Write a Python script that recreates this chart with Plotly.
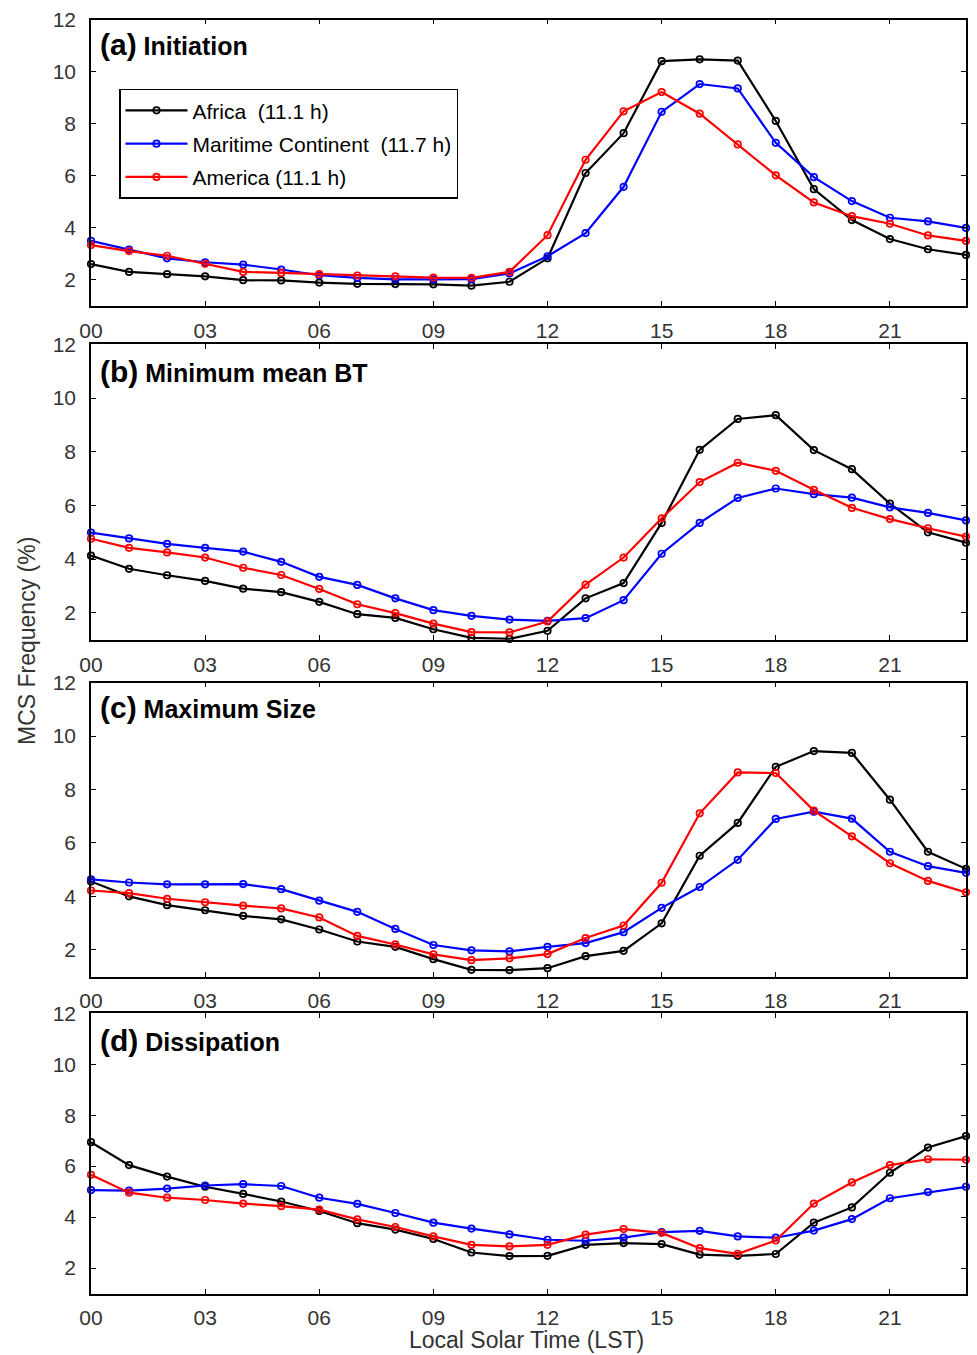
import plotly.graph_objects as go

W, H = 977, 1355

hours = list(range(24))
hour_ticks = [0, 3, 6, 9, 12, 15, 18, 21]
hour_labels = ["00", "03", "06", "09", "12", "15", "18", "21"]
freq_ticks = [2, 4, 6, 8, 10, 12]

regions = ["Africa", "Maritime Continent", "America"]
region_labels = ["Africa\u00a0\u00a0(11.1 h)", "Maritime Continent\u00a0\u00a0(11.7 h)", "America (11.1 h)\u00a0"]
region_colors = ["#000000", "#0000ff", "#ff0000"]

panel_titles = ["(a)", "(b)", "(c)", "(d)"]
panel_names = ["Initiation", "Minimum mean BT", "Maximum Size", "Dissipation"]

# MCS frequency (%) per local solar hour
init_africa = [2.60, 2.30, 2.21, 2.13, 1.98, 1.97, 1.89, 1.84, 1.83, 1.82, 1.77, 1.92,
               2.82, 6.10, 7.63, 10.40, 10.47, 10.42, 8.10, 5.48, 4.29, 3.56, 3.17, 2.95]
init_maritime = [3.49, 3.16, 2.82, 2.67, 2.58, 2.39, 2.17, 2.07, 2.01, 2.01, 2.02, 2.24,
                 2.90, 3.79, 5.57, 8.45, 9.52, 9.35, 7.26, 5.94, 5.02, 4.38, 4.24, 3.99]
init_america = [3.33, 3.10, 2.92, 2.61, 2.30, 2.26, 2.21, 2.16, 2.13, 2.08, 2.07, 2.30,
                3.71, 6.61, 8.47, 9.21, 8.38, 7.20, 6.01, 4.97, 4.44, 4.15, 3.70, 3.49]

minbt_africa = [4.13, 3.64, 3.40, 3.19, 2.90, 2.77, 2.41, 1.95, 1.81, 1.39, 1.07, 1.03,
                1.33, 2.54, 3.11, 5.35, 8.07, 9.22, 9.36, 8.06, 7.35, 6.07, 5.00, 4.61]
minbt_maritime = [4.99, 4.77, 4.57, 4.42, 4.28, 3.90, 3.34, 3.04, 2.54, 2.10, 1.89, 1.75,
                  1.70, 1.80, 2.47, 4.20, 5.35, 6.28, 6.63, 6.42, 6.29, 5.93, 5.72, 5.44]
minbt_america = [4.76, 4.42, 4.25, 4.06, 3.68, 3.41, 2.89, 2.32, 1.99, 1.60, 1.28, 1.27,
                 1.68, 3.05, 4.06, 5.52, 6.87, 7.59, 7.29, 6.58, 5.91, 5.49, 5.15, 4.84]

maxsize_africa = [4.56, 4.00, 3.67, 3.48, 3.27, 3.14, 2.76, 2.31, 2.11, 1.65, 1.25, 1.24,
                  1.31, 1.76, 1.96, 2.99, 5.52, 6.75, 8.85, 9.44, 9.37, 7.62, 5.67, 5.03]
maxsize_maritime = [4.64, 4.52, 4.45, 4.45, 4.46, 4.27, 3.84, 3.42, 2.78, 2.18, 1.98, 1.94,
                    2.11, 2.25, 2.66, 3.57, 4.35, 5.37, 6.90, 7.17, 6.91, 5.67, 5.13, 4.88]
maxsize_america = [4.22, 4.12, 3.91, 3.78, 3.65, 3.55, 3.21, 2.52, 2.20, 1.83, 1.61, 1.68,
                   1.84, 2.44, 2.91, 4.51, 7.11, 8.64, 8.62, 7.21, 6.25, 5.24, 4.58, 4.15]

diss_africa = [6.94, 6.04, 5.59, 5.19, 4.91, 4.61, 4.24, 3.76, 3.51, 3.14, 2.61, 2.47,
               2.48, 2.91, 2.98, 2.94, 2.53, 2.48, 2.55, 3.78, 4.38, 5.74, 6.73, 7.18]
diss_maritime = [5.06, 5.04, 5.12, 5.24, 5.29, 5.22, 4.76, 4.52, 4.16, 3.78, 3.55, 3.32,
                 3.11, 3.07, 3.19, 3.41, 3.46, 3.24, 3.19, 3.47, 3.92, 4.74, 4.98, 5.19]
diss_america = [5.66, 4.96, 4.76, 4.67, 4.53, 4.43, 4.29, 3.91, 3.61, 3.24, 2.91, 2.85,
                2.91, 3.31, 3.53, 3.38, 2.78, 2.56, 3.08, 4.53, 5.36, 6.04, 6.27, 6.25]

panels = [
    [init_africa, init_maritime, init_america],
    [minbt_africa, minbt_maritime, minbt_america],
    [maxsize_africa, maxsize_maritime, maxsize_america],
    [diss_africa, diss_maritime, diss_america],
]

# panel frames in pixels (top, bottom) and common left/right edges
frames_px = [(19.5, 305.7), (344.3, 639.7), (682.7, 976.5), (1013.3, 1293.5)]
x_left, x_right = 91, 966

FONT = "Liberation Sans, Arial, Helvetica, sans-serif"
TICK_COLOR = "#333333"

fig = go.Figure()

for i, series in enumerate(panels):
    xa = "x" if i == 0 else f"x{i + 1}"
    ya = "y" if i == 0 else f"y{i + 1}"
    for j, vals in enumerate(series):
        fig.add_trace(go.Scatter(
            x=hours, y=vals, xaxis=xa, yaxis=ya,
            mode="lines+markers",
            name=region_labels[j],
            legendgroup=regions[j],
            showlegend=(i == 0),
            line=dict(color=region_colors[j], width=2.2),
            marker=dict(symbol="circle-open", size=6.5, color=region_colors[j],
                        line=dict(width=1.7, color=region_colors[j])),
            cliponaxis=False,
        ))

    top, bot = frames_px[i]
    dom_y = [1 - bot / H, 1 - top / H]
    axis_common = dict(
        showline=True, linecolor="black", linewidth=1.5, mirror="ticks",
        ticks="inside", ticklen=5, tickwidth=1.2, tickcolor="black",
        showgrid=False, zeroline=False, automargin=False,
        tickfont=dict(family=FONT, size=21, color=TICK_COLOR),
    )
    fig.layout[f"xaxis{'' if i == 0 else i + 1}"] = dict(
        domain=[x_left / W, x_right / W], anchor=ya, range=[0, 23],
        tickvals=hour_ticks, ticktext=hour_labels, ticklabelstandoff=5,
        **axis_common,
    )
    fig.layout[f"yaxis{'' if i == 0 else i + 1}"] = dict(
        domain=dom_y, anchor=xa, range=[1, 12],
        tickvals=freq_ticks, ticktext=[str(v) for v in freq_ticks],
        ticklabelstandoff=9,
        **axis_common,
    )

    title_y_px = [45, 371, 707, 1040][i]
    fig.add_annotation(
        xref="paper", yref="paper", x=98 / W, y=1 - title_y_px / H,
        xanchor="left", yanchor="middle", showarrow=False,
        text=f"<b><span style='font-size:30px'>{panel_titles[i]}</span> {panel_names[i]}</b>",
        font=dict(family=FONT, size=25, color="black"),
    )

fig.add_annotation(
    xref="paper", yref="paper", x=27 / W, y=1 - 641 / H,
    xanchor="center", yanchor="middle", showarrow=False, textangle=-90,
    text="MCS Frequency (%)",
    font=dict(family=FONT, size=23, color=TICK_COLOR),
)
fig.add_annotation(
    xref="paper", yref="paper", x=526 / W, y=1 - 1340 / H,
    xanchor="center", yanchor="middle", showarrow=False,
    text="Local Solar Time (LST)",
    font=dict(family=FONT, size=23, color=TICK_COLOR),
)

fig.update_layout(
    width=W, height=H,
    margin=dict(l=0, r=0, t=0, b=0, autoexpand=False),
    paper_bgcolor="white", plot_bgcolor="white",
    showlegend=True,
    legend=dict(
        x=119 / W, y=1 - 88.7 / H, xanchor="left", yanchor="top",
        bgcolor="white", bordercolor="black", borderwidth=1.5,
        font=dict(family=FONT, size=21, color="black"),
        itemwidth=62, tracegroupgap=3,
    ),
)

fig.write_html("out.html")
